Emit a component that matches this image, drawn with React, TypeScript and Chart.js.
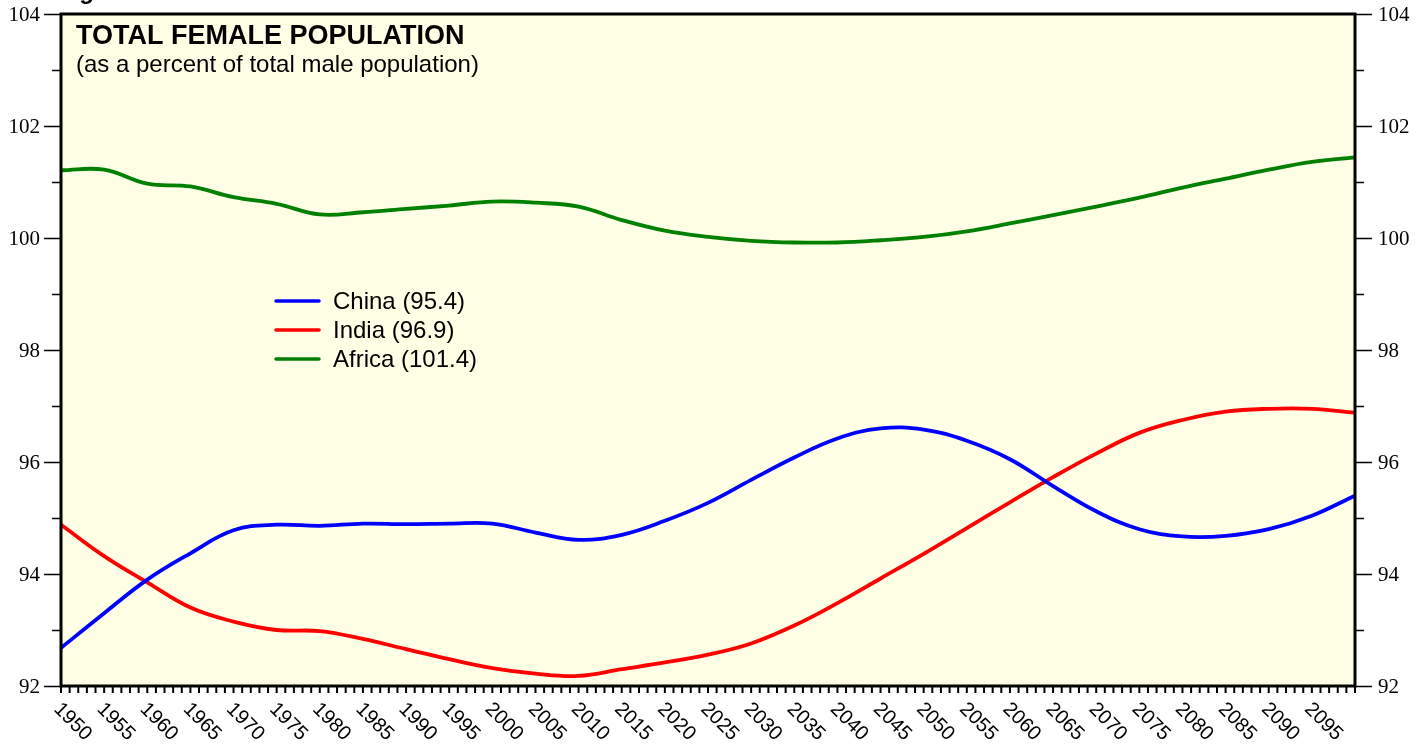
import React, { useEffect, useRef } from "react";
import { Chart, registerables } from "chart.js";

Chart.register(...registerables);

const years = [
  1950, 1955, 1960, 1965, 1970, 1975, 1980, 1985, 1990, 1995, 2000,
  2005, 2010, 2015, 2020, 2025, 2030, 2035, 2040, 2045, 2050,
  2055, 2060, 2065, 2070, 2075, 2080, 2085, 2090, 2095, 2100,
];

const china = [
  92.68, 93.3, 93.9, 94.37, 94.78, 94.88, 94.86, 94.9, 94.89, 94.9, 94.9,
  94.74, 94.61, 94.7, 94.95, 95.27, 95.68, 96.08, 96.42, 96.6, 96.58,
  96.38, 96.05, 95.57, 95.12, 94.8, 94.67, 94.68, 94.8, 95.04, 95.4,
];

const india = [
  94.88, 94.32, 93.85, 93.4, 93.15, 93.0, 92.98, 92.84, 92.66, 92.48, 92.32,
  92.22, 92.18, 92.3, 92.42, 92.56, 92.76, 93.08, 93.48, 93.92, 94.36,
  94.82, 95.28, 95.73, 96.15, 96.52, 96.75, 96.9, 96.95, 96.95, 96.88,
];

const africa = [
  101.21, 101.22, 100.97, 100.92, 100.73, 100.61, 100.42, 100.46, 100.52, 100.58, 100.65,
  100.63, 100.56, 100.32, 100.13, 100.02, 99.95, 99.92, 99.92, 99.96, 100.02,
  100.12, 100.26, 100.41, 100.56, 100.72, 100.9, 101.06, 101.22, 101.36, 101.44,
];

const seriesNames = ["China (95.4)", "India (96.9)", "Africa (101.4)"];
const seriesColors = ["#0000ff", "#ff0000", "#008000"];

const xLabelYears = [
  1950, 1955, 1960, 1965, 1970, 1975, 1980, 1985, 1990, 1995, 2000,
  2005, 2010, 2015, 2020, 2025, 2030, 2035, 2040, 2045, 2050,
  2055, 2060, 2065, 2070, 2075, 2080, 2085, 2090, 2095,
];
const yLabelValues = [92, 94, 96, 98, 100, 102, 104];
const yMinorValues = [93, 95, 97, 99, 101, 103];

const titleText = "TOTAL FEMALE POPULATION";
const subtitleText = "(as a percent of total male population)";
const topCutText = "Figure";

const BG = "#ffffe5";

const decorPlugin = {
  id: "decor",
  beforeDraw(chart: any) {
    const { ctx, chartArea } = chart;
    ctx.save();
    ctx.fillStyle = "#ffffff";
    ctx.fillRect(0, 0, chart.width, chart.height);
    ctx.fillStyle = BG;
    ctx.fillRect(
      chartArea.left,
      chartArea.top,
      chartArea.right - chartArea.left,
      chartArea.bottom - chartArea.top
    );
    ctx.restore();
  },
  afterDraw(chart: any) {
    const { ctx, chartArea } = chart;
    const xs = chart.scales.x;
    const ys = chart.scales.y;
    const L = chartArea.left;
    const R = chartArea.right;
    const T = chartArea.top;
    const B = chartArea.bottom;
    ctx.save();

    // y ticks (left and right)
    ctx.strokeStyle = "#000";
    ctx.lineWidth = 1.5;
    const drawYTick = (v: number, len: number) => {
      const y = Math.round(ys.getPixelForValue(v)) + 0.5;
      ctx.beginPath();
      ctx.moveTo(L - len, y);
      ctx.lineTo(L, y);
      ctx.moveTo(R, y);
      ctx.lineTo(R + len, y);
      ctx.stroke();
    };
    yLabelValues.forEach((v) => drawYTick(v, 17));
    yMinorValues.forEach((v) => drawYTick(v, 9));

    ctx.fillStyle = "#000";
    ctx.font = "21px 'Liberation Serif'";
    ctx.textBaseline = "middle";
    yLabelValues.forEach((v) => {
      const y = ys.getPixelForValue(v);
      ctx.textAlign = "right";
      ctx.fillText(String(v), L - 21, y + 1);
      ctx.textAlign = "left";
      ctx.fillText(String(v), R + 23, y + 1);
    });

    // x ticks every year
    ctx.lineWidth = 2;
    for (let yr = 1950; yr <= 2100; yr++) {
      const x = xs.getPixelForValue(yr);
      ctx.beginPath();
      ctx.moveTo(x, B);
      ctx.lineTo(x, B + 7);
      ctx.stroke();
    }

    // x labels rotated
    ctx.font = "20px 'Liberation Sans'";
    ctx.textAlign = "left";
    ctx.textBaseline = "alphabetic";
    xLabelYears.forEach((yr) => {
      const x = xs.getPixelForValue(yr);
      ctx.save();
      ctx.translate(x - 8, 710);
      ctx.rotate(Math.PI / 4);
      ctx.fillText(String(yr), 0, 0);
      ctx.restore();
    });

    // frame
    ctx.lineWidth = 3;
    ctx.strokeStyle = "#000";
    ctx.strokeRect(L, T, R - L, B - T);

    // titles
    ctx.fillStyle = "#000";
    ctx.textAlign = "left";
    ctx.textBaseline = "alphabetic";
    ctx.font = "bold 27px 'Liberation Sans'";
    ctx.fillText(titleText, L + 15, 44);
    ctx.font = "24px 'Liberation Sans'";
    ctx.fillText(subtitleText, L + 15, 72);

    ctx.font = "bold 24px 'Liberation Sans'";
    ctx.fillText(topCutText, L - 3, -1);

    // legend
    const legY = [301, 330, 359];
    ctx.font = "24px 'Liberation Sans'";
    ctx.textBaseline = "middle";
    seriesNames.forEach((name, i) => {
      ctx.strokeStyle = seriesColors[i];
      ctx.lineWidth = 3.5;
      ctx.lineCap = "round";
      ctx.beginPath();
      ctx.moveTo(276, legY[i]);
      ctx.lineTo(319, legY[i]);
      ctx.stroke();
      ctx.fillStyle = "#000";
      ctx.fillText(name, 333, legY[i] + 1);
    });

    ctx.restore();
  },
};

export default function App() {
  const ref = useRef<HTMLCanvasElement | null>(null);
  useEffect(() => {
    document.body.style.margin = "0";
    const canvas = ref.current;
    if (!canvas) return;
    const mk = (vals: number[]) => years.map((yr, i) => ({ x: yr, y: vals[i] }));
    const chart = new Chart(canvas, {
      type: "line",
      data: {
        datasets: [
          { label: seriesNames[0], data: mk(china), borderColor: seriesColors[0] },
          { label: seriesNames[1], data: mk(india), borderColor: seriesColors[1] },
          { label: seriesNames[2], data: mk(africa), borderColor: seriesColors[2] },
        ].map((d) => ({
          ...d,
          borderWidth: 3.8,
          pointRadius: 0,
          tension: 0.4,
          fill: false,
        })),
      },
      options: {
        responsive: false,
        animation: false,
        devicePixelRatio: 1,
        layout: { padding: { left: 61, right: 73, top: 14, bottom: 59 } },
        plugins: { legend: { display: false }, tooltip: { enabled: false } },
        scales: {
          x: { type: "linear", min: 1950, max: 2100, display: false },
          y: { type: "linear", min: 92, max: 104, display: false },
        },
      },
      plugins: [decorPlugin],
    });
    return () => chart.destroy();
  }, []);
  return (
    <canvas
      ref={ref}
      width={1428}
      height={745}
      style={{ display: "block", width: 1428, height: 745 }}
    />
  );
}
